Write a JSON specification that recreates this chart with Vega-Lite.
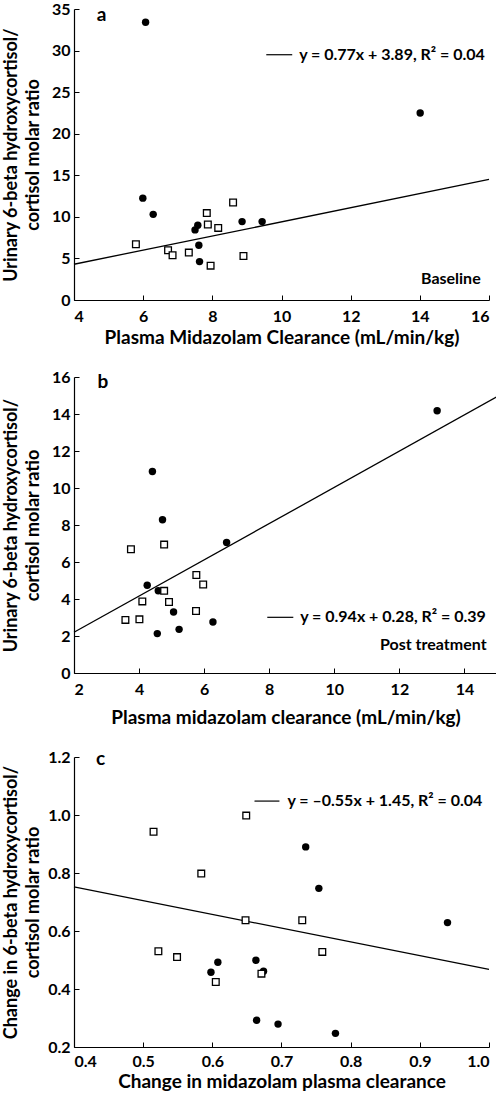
{
  "$schema": "https://vega.github.io/schema/vega-lite/v6.json",
  "background": "white",
  "padding": {"left": 2, "top": 1, "right": 2, "bottom": 0},
  "spacing": 22,
  "config": {
    "view": {"stroke": null},
    "font": "Lato",
    "axis": {
      "grid": false,
      "domainColor": "#000",
      "domainWidth": 1.2,
      "tickColor": "#000",
      "tickSize": -5,
      "tickWidth": 1,
      "labelFont": "Lato",
      "labelFontWeight": "bold",
      "labelFontSize": 16,
      "labelColor": "#000",
      "titleFont": "Lato",
      "titleFontWeight": "bold",
      "titleColor": "#000"
    },
    "axisX": {"labelPadding": 13, "titlePadding": 4, "titleFontSize": 19},
    "axisY": {"labelPadding": 9, "titleLineHeight": 22, "titlePadding": 7, "titleFontSize": 18}
  },
  "datasets": {
    "ptsA": [
      {"x": 6.07, "y": 33.4, "g": "filled"},
      {"x": 5.99, "y": 12.25, "g": "filled"},
      {"x": 6.29, "y": 10.3, "g": "filled"},
      {"x": 7.58, "y": 9.0, "g": "filled"},
      {"x": 7.5, "y": 8.43, "g": "filled"},
      {"x": 7.61, "y": 6.59, "g": "filled"},
      {"x": 7.63, "y": 4.62, "g": "filled"},
      {"x": 8.86, "y": 9.43, "g": "filled"},
      {"x": 9.44, "y": 9.43, "g": "filled"},
      {"x": 14.01, "y": 22.5, "g": "filled"},
      {"x": 5.79, "y": 6.7, "g": "open"},
      {"x": 6.72, "y": 5.99, "g": "open"},
      {"x": 6.85, "y": 5.38, "g": "open"},
      {"x": 7.32, "y": 5.7, "g": "open"},
      {"x": 7.84, "y": 10.45, "g": "open"},
      {"x": 7.87, "y": 9.08, "g": "open"},
      {"x": 8.17, "y": 8.67, "g": "open"},
      {"x": 7.95, "y": 4.13, "g": "open"},
      {"x": 8.6, "y": 11.72, "g": "open"},
      {"x": 8.9, "y": 5.3, "g": "open"}
    ],
    "fitA": [{"x": 4, "y": 4.3}, {"x": 16, "y": 14.5}],
    "keyA": [{"x": 9.56, "x2": 10.31, "y": 29.5}],
    "noteA": [
      {"x": 10.51, "y": 29.5, "label": "y = 0.77x + 3.89, R² = 0.04", "kind": "eq"},
      {"x": 4.8, "y": 34.3, "label": "a", "kind": "letter"},
      {"x": 15.76, "y": 2.5, "label": "Baseline", "kind": "cond"}
    ],
    "ptsB": [
      {"x": 4.41, "y": 10.89, "g": "filled"},
      {"x": 4.72, "y": 8.28, "g": "filled"},
      {"x": 6.69, "y": 7.05, "g": "filled"},
      {"x": 4.25, "y": 4.74, "g": "filled"},
      {"x": 4.59, "y": 4.45, "g": "filled"},
      {"x": 5.06, "y": 3.3, "g": "filled"},
      {"x": 4.56, "y": 2.13, "g": "filled"},
      {"x": 5.23, "y": 2.36, "g": "filled"},
      {"x": 6.27, "y": 2.76, "g": "filled"},
      {"x": 13.16, "y": 14.18, "g": "filled"},
      {"x": 3.75, "y": 6.69, "g": "open"},
      {"x": 4.77, "y": 6.94, "g": "open"},
      {"x": 5.76, "y": 5.3, "g": "open"},
      {"x": 5.97, "y": 4.78, "g": "open"},
      {"x": 4.77, "y": 4.44, "g": "open"},
      {"x": 4.1, "y": 3.87, "g": "open"},
      {"x": 4.92, "y": 3.84, "g": "open"},
      {"x": 5.75, "y": 3.35, "g": "open"},
      {"x": 3.58, "y": 2.87, "g": "open"},
      {"x": 4.01, "y": 2.9, "g": "open"}
    ],
    "fitB": [{"x": 2, "y": 2.2}, {"x": 15, "y": 14.93}],
    "keyB": [{"x": 7.94, "x2": 8.74, "y": 3.01}],
    "noteB": [
      {"x": 8.95, "y": 3.01, "label": "y = 0.94x + 0.28, R² = 0.39", "kind": "eq"},
      {"x": 2.89, "y": 15.72, "label": "b", "kind": "letter"},
      {"x": 14.68, "y": 1.53, "label": "Post treatment", "kind": "cond"}
    ],
    "ptsC": [
      {"x": 0.598, "y": 0.458, "g": "filled"},
      {"x": 0.608, "y": 0.492, "g": "filled"},
      {"x": 0.735, "y": 0.89, "g": "filled"},
      {"x": 0.754, "y": 0.747, "g": "filled"},
      {"x": 0.94, "y": 0.629, "g": "filled"},
      {"x": 0.663, "y": 0.499, "g": "filled"},
      {"x": 0.674, "y": 0.461, "g": "filled"},
      {"x": 0.664, "y": 0.292, "g": "filled"},
      {"x": 0.695, "y": 0.279, "g": "filled"},
      {"x": 0.778, "y": 0.247, "g": "filled"},
      {"x": 0.515, "y": 0.942, "g": "open"},
      {"x": 0.649, "y": 0.998, "g": "open"},
      {"x": 0.584, "y": 0.798, "g": "open"},
      {"x": 0.648, "y": 0.637, "g": "open"},
      {"x": 0.522, "y": 0.53, "g": "open"},
      {"x": 0.549, "y": 0.51, "g": "open"},
      {"x": 0.605, "y": 0.424, "g": "open"},
      {"x": 0.73, "y": 0.637, "g": "open"},
      {"x": 0.759, "y": 0.528, "g": "open"},
      {"x": 0.671, "y": 0.453, "g": "open"}
    ],
    "fitC": [{"x": 0.4, "y": 0.752}, {"x": 1.0, "y": 0.468}],
    "keyC": [{"x": 0.661, "x2": 0.697, "y": 1.048}],
    "noteC": [
      {"x": 0.7085, "y": 1.048, "label": "y = –0.55x + 1.45, R² = 0.04", "kind": "eq"},
      {"x": 0.4386, "y": 1.193, "label": "c", "kind": "letter"}
    ]
  },
  "vconcat": [
    {
      "width": 415,
      "height": 291,
      "encoding": {
        "x": {"field": "x", "type": "quantitative", "scale": {"domain": [4, 16], "nice": false, "zero": false},
              "axis": {"values": [4, 6, 8, 10, 12, 14, 16], "title": "Plasma Midazolam Clearance (mL/min/kg)"}},
        "y": {"field": "y", "type": "quantitative", "scale": {"domain": [0, 35], "nice": false, "zero": false},
              "axis": {"values": [0, 5, 10, 15, 20, 25, 30, 35], "title": ["Urinary 6-beta hydroxycortisol/", "cortisol molar ratio"], "titlePadding": 9}}
      },
      "layer": [
        {"data": {"name": "fitA"}, "mark": {"type": "line", "color": "#000", "strokeWidth": 1.3}},
        {"data": {"name": "keyA"}, "mark": {"type": "rule", "color": "#000", "strokeWidth": 1.2}, "encoding": {"x2": {"field": "x2"}}},
        {"data": {"name": "ptsA"}, "transform": [{"filter": "datum.g == 'filled'"}], "mark": {"type": "point", "shape": "circle", "filled": true, "color": "#000", "opacity": 1, "size": 55}},
        {"data": {"name": "ptsA"}, "transform": [{"filter": "datum.g == 'open'"}], "mark": {"type": "point", "shape": "square", "filled": false, "fill": "white", "fillOpacity": 1, "stroke": "#000", "strokeWidth": 1.3, "opacity": 1, "size": 45}},
        {"data": {"name": "noteA"}, "transform": [{"filter": "datum.kind == 'eq'"}], "mark": {"type": "text", "align": "left", "baseline": "middle", "font": "Lato", "fontWeight": "bold", "fontSize": 16, "color": "#000"}, "encoding": {"text": {"field": "label"}}},
        {"data": {"name": "noteA"}, "transform": [{"filter": "datum.kind == 'letter'"}], "mark": {"type": "text", "align": "center", "baseline": "middle", "font": "Lato", "fontWeight": "bold", "fontSize": 19, "color": "#000"}, "encoding": {"text": {"field": "label"}}},
        {"data": {"name": "noteA"}, "transform": [{"filter": "datum.kind == 'cond'"}], "mark": {"type": "text", "align": "right", "baseline": "middle", "font": "Lato", "fontWeight": "bold", "fontSize": 16, "color": "#000"}, "encoding": {"text": {"field": "label"}}}
      ]
    },
    {
      "width": 423,
      "height": 296,
      "encoding": {
        "x": {"field": "x", "type": "quantitative", "scale": {"domain": [2, 15], "nice": false, "zero": false},
              "axis": {"values": [2, 4, 6, 8, 10, 12, 14], "title": "Plasma midazolam clearance (mL/min/kg)", "titlePadding": 11}},
        "y": {"field": "y", "type": "quantitative", "scale": {"domain": [0, 16], "nice": false, "zero": false},
              "axis": {"values": [0, 2, 4, 6, 8, 10, 12, 14, 16], "title": ["Urinary 6-beta hydroxycortisol/", "cortisol molar ratio"], "titlePadding": 9}}
      },
      "layer": [
        {"data": {"name": "fitB"}, "mark": {"type": "line", "color": "#000", "strokeWidth": 1.3}},
        {"data": {"name": "keyB"}, "mark": {"type": "rule", "color": "#000", "strokeWidth": 1.2}, "encoding": {"x2": {"field": "x2"}}},
        {"data": {"name": "ptsB"}, "transform": [{"filter": "datum.g == 'filled'"}], "mark": {"type": "point", "shape": "circle", "filled": true, "color": "#000", "opacity": 1, "size": 55}},
        {"data": {"name": "ptsB"}, "transform": [{"filter": "datum.g == 'open'"}], "mark": {"type": "point", "shape": "square", "filled": false, "fill": "white", "fillOpacity": 1, "stroke": "#000", "strokeWidth": 1.3, "opacity": 1, "size": 45}},
        {"data": {"name": "noteB"}, "transform": [{"filter": "datum.kind == 'eq'"}], "mark": {"type": "text", "align": "left", "baseline": "middle", "font": "Lato", "fontWeight": "bold", "fontSize": 16, "color": "#000"}, "encoding": {"text": {"field": "label"}}},
        {"data": {"name": "noteB"}, "transform": [{"filter": "datum.kind == 'letter'"}], "mark": {"type": "text", "align": "center", "baseline": "middle", "font": "Lato", "fontWeight": "bold", "fontSize": 19, "color": "#000"}, "encoding": {"text": {"field": "label"}}},
        {"data": {"name": "noteB"}, "transform": [{"filter": "datum.kind == 'cond'"}], "mark": {"type": "text", "align": "right", "baseline": "middle", "font": "Lato", "fontWeight": "bold", "fontSize": 16, "color": "#000"}, "encoding": {"text": {"field": "label"}}}
      ]
    },
    {
      "width": 415,
      "height": 290,
      "encoding": {
        "x": {"field": "x", "type": "quantitative", "scale": {"domain": [0.4, 1.0], "nice": false, "zero": false},
              "axis": {"values": [0.4, 0.5, 0.6, 0.7, 0.8, 0.9, 1.0], "format": ".1f", "title": "Change in midazolam plasma clearance", "labelPadding": 11, "titlePadding": 3}},
        "y": {"field": "y", "type": "quantitative", "scale": {"domain": [0.2, 1.2], "nice": false, "zero": false},
              "axis": {"values": [0.2, 0.4, 0.6, 0.8, 1.0, 1.2], "format": ".1f", "title": ["Change in 6-beta hydroxycortisol/", "cortisol molar ratio"], "titlePadding": 5}}
      },
      "layer": [
        {"data": {"name": "fitC"}, "mark": {"type": "line", "color": "#000", "strokeWidth": 1.3}},
        {"data": {"name": "keyC"}, "mark": {"type": "rule", "color": "#000", "strokeWidth": 1.2}, "encoding": {"x2": {"field": "x2"}}},
        {"data": {"name": "ptsC"}, "transform": [{"filter": "datum.g == 'filled'"}], "mark": {"type": "point", "shape": "circle", "filled": true, "color": "#000", "opacity": 1, "size": 55}},
        {"data": {"name": "ptsC"}, "transform": [{"filter": "datum.g == 'open'"}], "mark": {"type": "point", "shape": "square", "filled": false, "fill": "white", "fillOpacity": 1, "stroke": "#000", "strokeWidth": 1.3, "opacity": 1, "size": 45}},
        {"data": {"name": "noteC"}, "transform": [{"filter": "datum.kind == 'eq'"}], "mark": {"type": "text", "align": "left", "baseline": "middle", "font": "Lato", "fontWeight": "bold", "fontSize": 16, "color": "#000"}, "encoding": {"text": {"field": "label"}}},
        {"data": {"name": "noteC"}, "transform": [{"filter": "datum.kind == 'letter'"}], "mark": {"type": "text", "align": "center", "baseline": "middle", "font": "Lato", "fontWeight": "bold", "fontSize": 19, "color": "#000"}, "encoding": {"text": {"field": "label"}}}
      ]
    }
  ]
}
